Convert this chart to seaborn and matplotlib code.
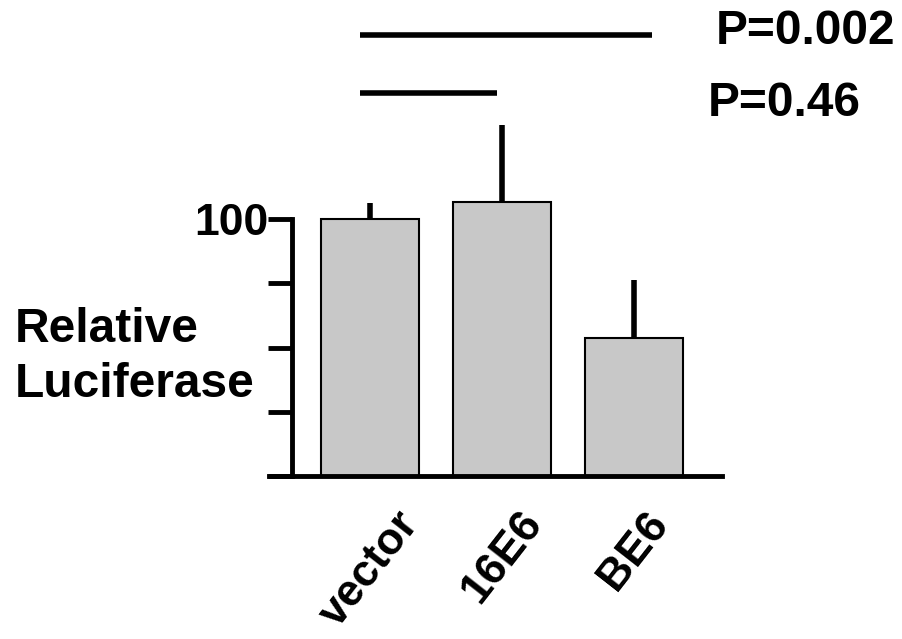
import matplotlib
matplotlib.use("Agg")
import matplotlib.pyplot as plt
import seaborn as sns
import pandas as pd

categories = ["vector", "16E6", "BE6"]
values = [100, 106.6, 53.7]
errors_up = [6.2, 30.0, 22.6]
ytick_values = [0, 25, 50, 75, 100]
ytick_labels = ["", "", "", "", "100"]
comparisons = [("vector", "BE6", "P=0.002"), ("vector", "16E6", "P=0.46")]

sns.set_theme(style="white")
plt.rcParams["font.family"] = ["Liberation Sans", "DejaVu Sans"]
plt.rcParams["font.weight"] = "bold"
for k in ["text.color", "axes.labelcolor", "xtick.color", "ytick.color", "axes.edgecolor"]:
    plt.rcParams[k] = "black"

FS = 34.5
W, H = 902, 639
fig = plt.figure(figsize=(W / 100, H / 100), dpi=100)
# axes spanning pixel x 269..722, y 0..476
ax = fig.add_axes([269 / W, 1 - 476 / H, (722 - 269) / W, 476 / H])

df = pd.DataFrame({"cat": categories, "val": values})
sns.barplot(data=df, x="cat", y="val", order=categories, color="#c8c8c8",
            saturation=1, width=0.74, edgecolor="black", linewidth=1.5,
            errorbar=None, ax=ax, zorder=2)
xs = list(range(len(categories)))
ax.errorbar(xs, values, yerr=[[0] * len(values), errors_up], fmt="none",
            ecolor="black", elinewidth=4, capsize=0, zorder=1)

px_per_unit = (476 - 219) / 100
ax.set_ylim(0, 476 / px_per_unit)
x_left = (269 - 370) / 132
x_right = (722 - 370) / 132
ax.set_xlim(x_left, x_right)

for s in ["top", "right"]:
    ax.spines[s].set_visible(False)
ax.spines["bottom"].set_linewidth(3.5)
ax.spines["left"].set_linewidth(3.5)
ax.spines["left"].set_position(("axes", (292 - 269) / (722 - 269)))
ax.spines["left"].set_bounds(0, 100)

ax.set_yticks(ytick_values)
ax.set_yticklabels(ytick_labels, fontsize=32, fontweight="bold")
ax.tick_params(axis="y", direction="out", length=17, width=3.5, color="black",
               pad=0, left=True)
ax.tick_params(axis="x", length=0, pad=20)
ax.set_xticks(xs)
ax.set_xticklabels(categories, rotation=52, ha="center", va="top",
                   fontsize=32, fontweight="bold")
ax.set_xlabel("")
ax.set_ylabel("")

def px_to_y(py):
    return (476 - py) / px_per_unit

def px_to_x(px):
    return (px - 370) / 132

sig_y = [35, 93]
sig_x_end = [652, 497]
text_x = [716, 708]
text_y = [32, 103]
for (a, b, label), yp, xe, tx, ty in zip(comparisons, sig_y, sig_x_end, text_x, text_y):
    ax.plot([px_to_x(360), px_to_x(xe)], [px_to_y(yp), px_to_y(yp)],
            color="black", lw=4, solid_capstyle="butt", clip_on=False)
    fig.text(tx / W, 1 - ty / H, label, fontsize=FS, fontweight="bold",
             ha="left", va="center")

fig.text(15 / W, 1 - 357 / H, "Relative\nLuciferase", fontsize=FS,
         fontweight="bold", ha="left", va="center", linespacing=1.3)

fig.savefig("out.png", dpi=100)
